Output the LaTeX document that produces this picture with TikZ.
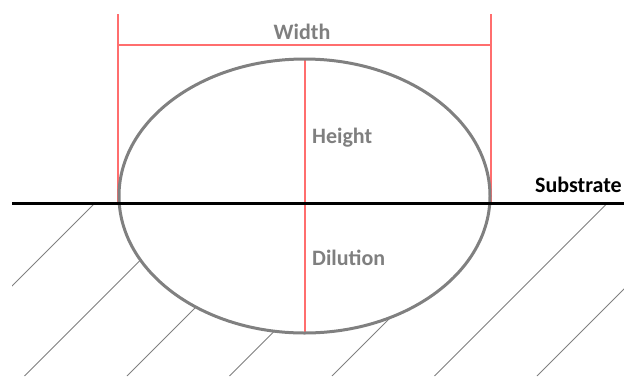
\documentclass[tikz,border=0pt]{standalone}
\usepackage{fontspec}
\setmainfont{Carlito}
\definecolor{labgray}{RGB}{127,127,127}
\definecolor{ellgray}{RGB}{128,128,128}
\tikzset{
  dimline/.style={draw={rgb,255:red,255;green,110;blue,110}, line width=1.2pt},
  hatchline/.style={draw=ellgray, line width=0.9pt},
  bead/.style={draw=ellgray, line width=3pt},
  substr/.style={draw=black, line width=3pt},
  lab/.style={font=\bfseries\fontsize{22}{24}\selectfont, text=labgray, inner sep=0pt},
}
\begin{document}
\begin{tikzpicture}[x=1pt,y=-1pt]
\useasboundingbox (0,0) rectangle (624,376);
% dimension lines
\coordinate (wl0) at (118,14);
\coordinate (wl1) at (118,203);
\coordinate (wr0) at (491,14);
\coordinate (wr1) at (491,203);
\coordinate (wa) at (117,45);
\coordinate (wb) at (492,45);
\coordinate (ht) at (305,59);
\coordinate (hb) at (305,333);
\draw[dimline] (wl0) -- (wl1) (wr0) -- (wr1) (wa) -- (wb) (ht) -- (hb);
% hatch
\begin{scope}[even odd rule]
\clip (12,203) rectangle (624,376)
  (304.5,196) ellipse [x radius=185.5, y radius=137];
\foreach \c/\y in {298/203,400.5/203,503/203,605.5/203,708/260,810.5/203,913/203}{
  \draw[hatchline] (\c-\y,\y) -- (\c-376,376);
}
\end{scope}
% bead
\draw[bead] (304.5,196) ellipse [x radius=185.5, y radius=137];
% substrate
\coordinate (s0) at (12,203);
\coordinate (s1) at (624,203);
\draw[substr] (s0) -- (s1);
% labels
\node[lab, anchor=base] (width) at (302,39) {Width};
\node[lab, anchor=base west] (height) at (312,143) {Height};
\node[lab, anchor=base west] (dilution) at (312,265) {Dilution};
\node[lab, anchor=base west, text=black] (substrate) at (535,192) {Substrate};
\end{tikzpicture}
\end{document}
